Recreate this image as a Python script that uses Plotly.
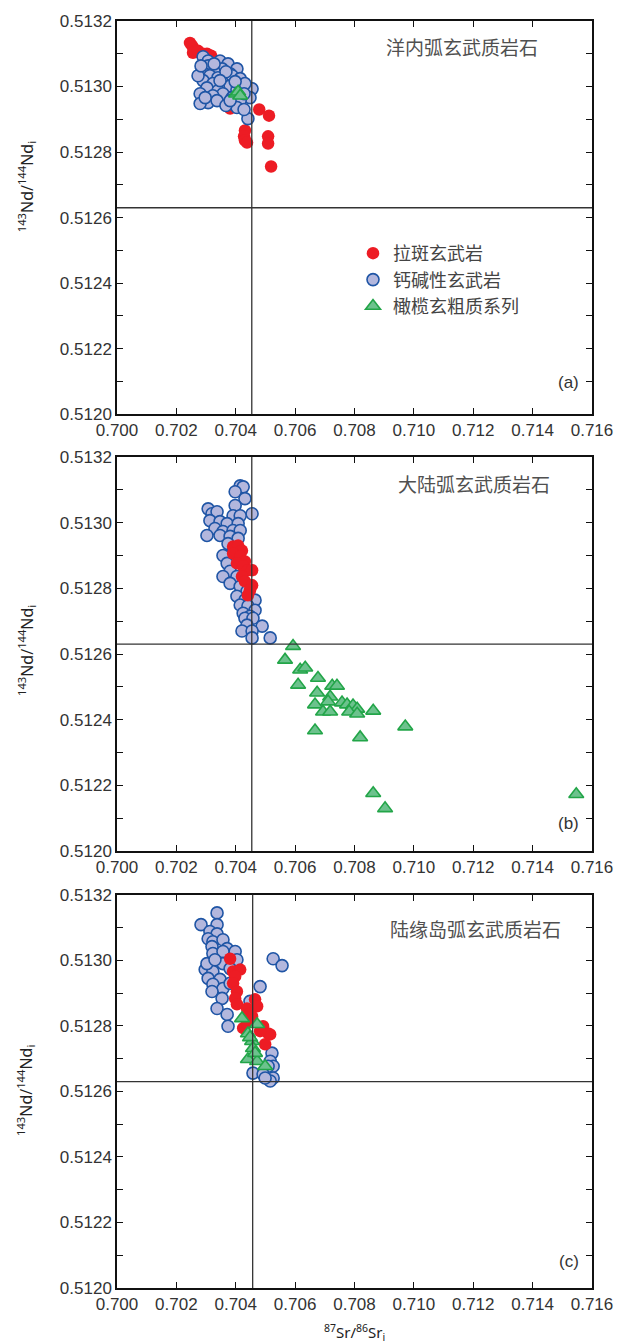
import plotly.graph_objects as go

# ---------------- data ----------------
# Panel (a) 洋内弧玄武质岩石
a_red_x = [0.70246,0.70253,0.70263,0.70256,0.70273,0.70290,0.70303,0.70317,0.70330,0.70354,0.70381,0.70401,0.70415,0.70425,0.70381,0.70401,0.70479,0.70512,0.70431,0.70428,0.70431,0.70438,0.70509,0.70509,0.70519]
a_red_y = [0.513133,0.513124,0.513109,0.513103,0.513109,0.513100,0.513100,0.513094,0.513078,0.513072,0.513057,0.513039,0.513018,0.513003,0.512933,0.512942,0.512930,0.512911,0.512866,0.512848,0.512836,0.512829,0.512848,0.512826,0.512756]
a_blue_x = [0.70290,0.70307,0.70347,0.70374,0.70307,0.70354,0.70404,0.70327,0.70290,0.70381,0.70313,0.70388,0.70415,0.70340,0.70290,0.70323,0.70357,0.70381,0.70303,0.70455,0.70340,0.70404,0.70357,0.70280,0.70323,0.70388,0.70448,0.70307,0.70337,0.70415,0.70280,0.70404,0.70367,0.70441,0.70428,0.70367,0.70431,0.70327,0.70273,0.70297,0.70381,0.70347,0.70428,0.70398,0.70283]
a_blue_y = [0.513091,0.513078,0.513078,0.513069,0.513063,0.513054,0.513054,0.513045,0.513042,0.513039,0.513033,0.513033,0.513024,0.513027,0.513018,0.513009,0.513002,0.513002,0.512996,0.512993,0.512987,0.512990,0.512978,0.512978,0.512972,0.512966,0.512966,0.512951,0.512957,0.512957,0.512948,0.512936,0.512942,0.512902,0.512930,0.513045,0.513009,0.513069,0.513033,0.512966,0.512957,0.513018,0.512978,0.513015,0.513063]
a_green_x = [0.70401,0.70408,0.70415]
a_green_y = [0.512978,0.512984,0.512972]

# Panel (b) 大陆弧玄武质岩石
b_red_x = [0.70391,0.70408,0.70421,0.70391,0.70415,0.70431,0.70404,0.70425,0.70441,0.70455,0.70421,0.70431,0.70455,0.70448,0.70441]
b_red_y = [0.512927,0.512930,0.512915,0.512906,0.512897,0.512882,0.512876,0.512867,0.512855,0.512855,0.512836,0.512821,0.512809,0.512794,0.512779]
b_blue_x = [0.70415,0.70425,0.70398,0.70431,0.70398,0.70455,0.70307,0.70320,0.70337,0.70391,0.70415,0.70313,0.70347,0.70371,0.70408,0.70330,0.70357,0.70391,0.70415,0.70303,0.70347,0.70381,0.70408,0.70374,0.70391,0.70357,0.70371,0.70381,0.70357,0.70404,0.70381,0.70415,0.70438,0.70404,0.70431,0.70465,0.70415,0.70441,0.70465,0.70425,0.70448,0.70431,0.70458,0.70438,0.70489,0.70421,0.70455,0.70455,0.70516]
b_blue_y = [0.513112,0.513109,0.513094,0.513073,0.513052,0.513027,0.513042,0.513027,0.513033,0.513021,0.513021,0.513006,0.513003,0.512997,0.512997,0.512982,0.512973,0.512976,0.512976,0.512961,0.512961,0.512958,0.512952,0.512936,0.512912,0.512900,0.512876,0.512852,0.512836,0.512836,0.512815,0.512806,0.512791,0.512776,0.512764,0.512764,0.512749,0.512746,0.512733,0.512724,0.512715,0.512709,0.512709,0.512688,0.512685,0.512670,0.512670,0.512649,0.512649]
b_green_x = [0.70593,0.70566,0.70617,0.70634,0.70677,0.70610,0.70725,0.70741,0.70674,0.70718,0.70711,0.70667,0.70758,0.70775,0.70795,0.70809,0.70694,0.70718,0.70782,0.70809,0.70863,0.70667,0.70819,0.70971,0.70863,0.70903,0.71547]
b_green_y = [0.512624,0.512582,0.512552,0.512558,0.512527,0.512506,0.512503,0.512503,0.512482,0.512470,0.512455,0.512446,0.512452,0.512446,0.512443,0.512433,0.512424,0.512424,0.512424,0.512418,0.512427,0.512367,0.512346,0.512379,0.512176,0.512130,0.512173]

# Panel (c) 陆缘岛弧玄武质岩石
c_red_x = [0.70381,0.70391,0.70415,0.70398,0.70391,0.70404,0.70398,0.70404,0.70465,0.70472,0.70438,0.70448,0.70425,0.70492,0.70509,0.70516,0.70482,0.70499,0.70438,0.70455]
c_red_y = [0.513005,0.512966,0.512972,0.512951,0.512930,0.512905,0.512884,0.512866,0.512881,0.512860,0.512853,0.512838,0.512793,0.512799,0.512777,0.512774,0.512784,0.512744,0.512808,0.512829]
c_blue_x = [0.70337,0.70283,0.70337,0.70313,0.70337,0.70307,0.70323,0.70357,0.70320,0.70371,0.70398,0.70323,0.70357,0.70526,0.70556,0.70297,0.70323,0.70357,0.70307,0.70347,0.70323,0.70357,0.70381,0.70320,0.70354,0.70482,0.70337,0.70371,0.70374,0.70448,0.70522,0.70516,0.70526,0.70509,0.70458,0.70492,0.70526,0.70516,0.70499,0.70303,0.70330,0.70404,0.70381]
c_blue_y = [0.513145,0.513109,0.513109,0.513088,0.513081,0.513066,0.513057,0.513063,0.513042,0.513036,0.513027,0.513021,0.513027,0.513005,0.512984,0.512972,0.512966,0.512990,0.512945,0.512942,0.512927,0.512914,0.512930,0.512905,0.512884,0.512920,0.512853,0.512835,0.512799,0.512875,0.512717,0.512692,0.512677,0.512677,0.512656,0.512653,0.512641,0.512632,0.512641,0.512990,0.513002,0.513002,0.512975]
c_green_x = [0.70421,0.70472,0.70441,0.70455,0.70458,0.70441,0.70472,0.70499,0.70465,0.70448]
c_green_y = [0.512823,0.512805,0.512777,0.512753,0.512732,0.512698,0.512692,0.512677,0.512717,0.512765]

# Reference lines (bulk earth Sr, CHUR Nd)
ref_sr = [0.70454, 0.70454, 0.70457]
ref_nd = [0.51263, 0.51263, 0.51263]

series_names = ["拉斑玄武岩", "钙碱性玄武岩", "橄榄玄粗质系列"]
panel_titles = ["洋内弧玄武质岩石", "大陆弧玄武质岩石", "陆缘岛弧玄武质岩石"]
panel_tags = ["(a)", "(b)", "(c)"]
x_ticks = [0.700, 0.702, 0.704, 0.706, 0.708, 0.710, 0.712, 0.714, 0.716]
y_ticks = [0.5120, 0.5122, 0.5124, 0.5126, 0.5128, 0.5130, 0.5132]

# ---------------- styles ----------------
RED = dict(symbol="circle", size=12.5, color="#ED1C24", line=dict(color="#ED1C24", width=0))
BLUE = dict(symbol="circle", size=12, color="#B3B7DD", line=dict(color="#1F55A5", width=1.6))
GREEN = dict(symbol="triangle-up", size=13, color="#6CC28D", line=dict(color="#22A548", width=1.6))

fig = go.Figure()

panels = [
    (a_red_x, a_red_y, a_blue_x, a_blue_y, a_green_x, a_green_y, "red_first"),
    (b_red_x, b_red_y, b_blue_x, b_blue_y, b_green_x, b_green_y, "blue_first"),
    (c_red_x, c_red_y, c_blue_x, c_blue_y, c_green_x, c_green_y, "blue_first"),
]

H = 1343
top_m, bot_m = 15, 55
plot_h = H - top_m - bot_m
def dom(t, b):
    return [(1288 - b) / plot_h, (1288 - t) / plot_h]
def py(p):
    return (1288 - p) / plot_h

domains = [dom(15, 410), dom(453, 849), dom(893, 1288)]

for i, (rx, ry, bx, by, gx, gy, order) in enumerate(panels):
    xa = "x" if i == 0 else f"x{i+1}"
    ya = "y" if i == 0 else f"y{i+1}"
    red = go.Scatter(x=rx, y=ry, mode="markers", marker=RED, name=series_names[0],
                     legendgroup="r", showlegend=(i == 0), legendrank=1, xaxis=xa, yaxis=ya)
    blue = go.Scatter(x=bx, y=by, mode="markers", marker=BLUE, name=series_names[1],
                      legendgroup="b", showlegend=(i == 0), legendrank=2, xaxis=xa, yaxis=ya)
    green = go.Scatter(x=gx, y=gy, mode="markers", marker=GREEN, name=series_names[2],
                       legendgroup="g", showlegend=(i == 0), legendrank=3, xaxis=xa, yaxis=ya)
    if order == "red_first":
        fig.add_traces([red, blue, green])
    else:
        fig.add_traces([blue, red, green])

axis_font = dict(family="Liberation Sans, Arial, sans-serif", size=17, color="#333333")
ytitle = "<sup>143</sup>Nd/<sup>144</sup>Nd<sub>i</sub>"

layout = dict(
    width=630, height=H,
    margin=dict(l=117, r=38, t=top_m, b=bot_m),
    paper_bgcolor="white", plot_bgcolor="white",
    showlegend=True,
    legend=dict(x=(353 - 117) / 475, y=py(230), xanchor="left", yanchor="top",
                bgcolor="rgba(0,0,0,0)", font=dict(family="Noto Sans CJK SC", size=18, color="#444444"),
                itemsizing="trace", tracegroupgap=0, itemwidth=30),
)

for i in range(3):
    xk = "xaxis" if i == 0 else f"xaxis{i+1}"
    yk = "yaxis" if i == 0 else f"yaxis{i+1}"
    ya = "y" if i == 0 else f"y{i+1}"
    xa = "x" if i == 0 else f"x{i+1}"
    layout[xk] = dict(domain=[0, 1], anchor=ya, range=[0.700, 0.716], tickvals=x_ticks,
                      ticktext=[f"{v:.3f}" for v in x_ticks],
                      ticks="inside", ticklen=6, tickwidth=1.2, tickcolor="#111111",
                      showline=True, linecolor="#111111", linewidth=1.5, mirror="ticks",
                      showgrid=False, zeroline=False, tickfont=axis_font)
    layout[yk] = dict(domain=domains[i], anchor=xa, range=[0.5120, 0.5132], tickvals=y_ticks,
                      ticktext=[f"{v:.4f}" for v in y_ticks],
                      ticks="inside", ticklen=6, tickwidth=1.2, tickcolor="#111111",
                      minor=dict(dtick=0.0001, tick0=0.5120, ticks="inside", ticklen=6,
                                 tickwidth=1.2, tickcolor="#111111"),
                      showline=True, linecolor="#111111", linewidth=1.5, mirror="ticks",
                      showgrid=False, zeroline=False, tickfont=axis_font)

fig.update_layout(**layout)

title_pos = [((540 - 117) / 475, (410 - 41) / 395),
             ((552 - 117) / 475, (849 - 480) / 396),
             ((563 - 117) / 475, (1288 - 927) / 395)]
tag_pos = [(410 - 378) / 395, (849 - 821) / 396, (1288 - 1261) / 395]
ytitle_py = [182, 648, 1090]

shapes = []
annotations = []
for i in range(3):
    xa = "x" if i == 0 else f"x{i+1}"
    ya = "y" if i == 0 else f"y{i+1}"
    shapes.append(dict(type="line", xref=xa, yref=f"{ya} domain", x0=ref_sr[i], x1=ref_sr[i], y0=0, y1=1,
                       line=dict(color="#333333", width=1.3)))
    shapes.append(dict(type="line", xref=f"{xa} domain", yref=ya, x0=0, x1=1, y0=ref_nd[i], y1=ref_nd[i],
                       line=dict(color="#333333", width=1.3)))
    annotations.append(dict(xref=f"{xa} domain", yref=f"{ya} domain", x=title_pos[i][0], y=title_pos[i][1],
                            text=panel_titles[i], showarrow=False, xanchor="right", yanchor="middle",
                            font=dict(family="Noto Sans CJK SC", size=19, color="#505050")))
    annotations.append(dict(xref=f"{xa} domain", yref=f"{ya} domain", x=(581 - 117) / 475, y=tag_pos[i],
                            text=panel_tags[i], showarrow=False, xanchor="right", yanchor="middle",
                            font=dict(family="Liberation Sans", size=17, color="#333333")))
    annotations.append(dict(xref="paper", yref="paper", x=(26 - 117) / 475, y=py(ytitle_py[i]),
                            text=ytitle, showarrow=False, textangle=-90,
                            xanchor="center", yanchor="middle",
                            font=dict(family="Noto Sans", size=16, color="#222222")))

annotations.append(dict(xref="paper", yref="paper", x=(354 - 117) / 475, y=py(1333),
                        text="<sup>87</sup>Sr/<sup>86</sup>Sr<sub>i</sub>", showarrow=False,
                        xanchor="center", yanchor="middle",
                        font=dict(family="Noto Sans", size=15, color="#222222")))

fig.update_layout(shapes=shapes, annotations=annotations)
fig.write_html("out.html")
